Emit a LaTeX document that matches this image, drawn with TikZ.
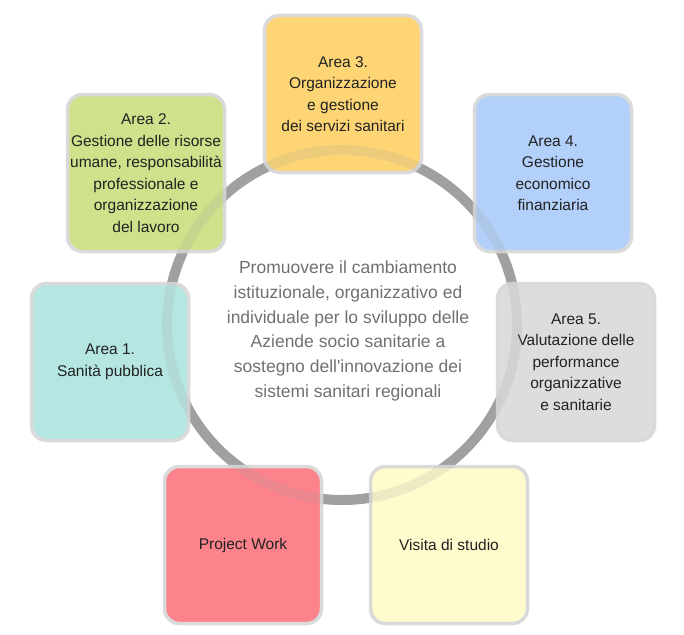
\documentclass[tikz,border=0pt]{standalone}
\usepackage{fontspec}
\setmainfont{Liberation Sans}
\usetikzlibrary{positioning}

\definecolor{ringgray}{RGB}{160,160,160}
\definecolor{boxline}{RGB}{218,218,218}
\definecolor{areaone}{RGB}{181,230,226}
\definecolor{areatwo}{RGB}{205,226,138}
\definecolor{areathree}{RGB}{253,213,116}
\definecolor{areafour}{RGB}{178,208,250}
\definecolor{areafive}{RGB}{221,221,221}
\definecolor{pwork}{RGB}{252,131,140}
\definecolor{visit}{RGB}{254,251,205}
\definecolor{boxtext}{RGB}{34,34,34}
\definecolor{midtext}{RGB}{112,112,112}

\begin{document}
\begin{tikzpicture}[
    x=1pt, y=-1pt,
    area/.style={draw=boxline, line width=3.5pt, rounded corners=15pt, minimum width=157pt, minimum height=157pt,
        align=center, text=boxtext, font=\fontsize{15.5}{21.5}\selectfont, inner sep=0pt},
    ring/.style={draw=ringgray, line width=10pt},
    goal/.style={align=center, text=midtext, font=\fontsize{17.5}{24.8}\selectfont}
]
    \useasboundingbox (0,0) rectangle (684,634);
    \coordinate (ctr) at (342,325);
    \draw[ring] (ctr) circle (175);

    \node[area, fill=areathree] (a3) at (343,94) {Area 3.\\Organizzazione\\e gestione\\dei servizi sanitari};
    \node[area, fill=areatwo] (a2) at (146,173) {Area 2.\\Gestione delle risorse\\umane, responsabilità\\professionale e\\organizzazione\\del lavoro};
    \node[area, fill=areafour] (a4) at (553,173) {Area 4.\\Gestione\\economico\\finanziaria};
    \node[area, fill=areaone] (a1) at (110,362) {Area 1.\\Sanità pubblica};
    \node[area, fill=areafive] (a5) at (576,362) {Area 5.\\Valutazione delle\\performance\\organizzative\\e sanitarie};
    \node[area, fill=pwork] (pw) at (243,545) {Project Work};
    \node[area, fill=visit] (vs) at (449,545) {Visita di studio};

    % ring shows faintly through the boxes
    \draw[ring, draw opacity=0.18] (ctr) circle (175);

    \node[goal] (goal) at (348,331) {Promuovere il cambiamento\\istituzionale, organizzativo ed\\individuale per lo sviluppo delle\\Aziende socio sanitarie a\\sostegno dell\textquotesingle innovazione dei\\sistemi sanitari regionali};
\end{tikzpicture}
\end{document}
